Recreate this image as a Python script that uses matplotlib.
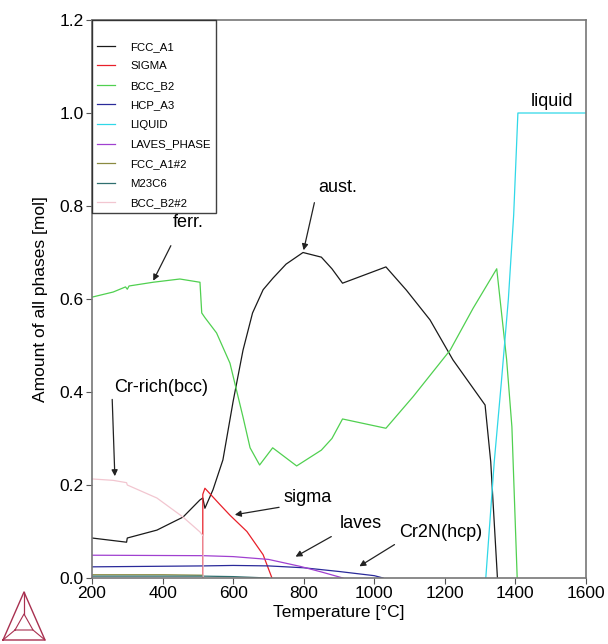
import matplotlib.pyplot as plt
import numpy as np

# phase amounts vs temperature
fcc_T = [200, 298, 300, 384, 458, 506, 514, 520, 543, 571, 600, 628, 655, 685, 713, 750, 798, 850, 880, 910, 1033, 1091, 1158, 1223, 1314, 1330, 1349]
fcc_v = [0.086, 0.077, 0.086, 0.103, 0.131, 0.168, 0.172, 0.150, 0.190, 0.254, 0.380, 0.490, 0.570, 0.620, 0.645, 0.675, 0.700, 0.690, 0.665, 0.634, 0.669, 0.619, 0.555, 0.469, 0.372, 0.250, 0.0]

sigma_T = [514, 514, 520, 560, 591, 639, 685, 710]
sigma_v = [0.0, 0.180, 0.193, 0.160, 0.135, 0.100, 0.050, 0.0]

bcc_T = [200, 260, 295, 300, 305, 373, 449, 506, 511, 520, 553, 591, 628, 648, 675, 712, 780, 850, 880, 910, 1033, 1110, 1215, 1280, 1347, 1375, 1390, 1405]
bcc_v = [0.604, 0.615, 0.626, 0.621, 0.628, 0.636, 0.643, 0.636, 0.570, 0.560, 0.527, 0.462, 0.346, 0.280, 0.243, 0.280, 0.241, 0.275, 0.300, 0.342, 0.322, 0.390, 0.490, 0.580, 0.665, 0.470, 0.325, 0.0]

hcp_T = [200, 515, 600, 700, 800, 900, 1000, 1025]
hcp_v = [0.024, 0.026, 0.027, 0.026, 0.022, 0.014, 0.005, 0.0]

liq_T = [1316, 1340, 1360, 1380, 1395, 1407, 1600]
liq_v = [0.0, 0.25, 0.42, 0.60, 0.78, 1.0, 1.0]

laves_T = [200, 515, 600, 700, 790, 850, 911]
laves_v = [0.049, 0.048, 0.046, 0.040, 0.025, 0.013, 0.0]

fcc2_T = [200, 400, 515, 516]
fcc2_v = [0.007, 0.007, 0.006, 0.0]

m23_T = [200, 515, 600, 700]
m23_v = [0.004, 0.004, 0.003, 0.0]

bcc2_T = [200, 260, 298, 300, 384, 458, 506, 515, 515]
bcc2_v = [0.213, 0.210, 0.205, 0.200, 0.172, 0.131, 0.099, 0.090, 0.0]

phases = [
    ('FCC_A1', fcc_T, fcc_v, '#1a1a1a'),
    ('SIGMA', sigma_T, sigma_v, '#e8202a'),
    ('BCC_B2', bcc_T, bcc_v, '#50d050'),
    ('HCP_A3', hcp_T, hcp_v, '#2a2a9a'),
    ('LIQUID', liq_T, liq_v, '#30d8e8'),
    ('LAVES_PHASE', laves_T, laves_v, '#a040d0'),
    ('FCC_A1#2', fcc2_T, fcc2_v, '#8a8a40'),
    ('M23C6', m23_T, m23_v, '#2f6f6f'),
    ('BCC_B2#2', bcc2_T, bcc2_v, '#f2c6d0'),
]

# labels: (text, text pos, arrow tail, arrow tip)
notes = [
    ('ferr.', (472, 0.765), (427, 0.72), (370, 0.634)),
    ('aust.', (897, 0.84), (832, 0.813), (798, 0.699)),
    ('Cr-rich(bcc)', (396, 0.41), (257, 0.39), (265, 0.213)),
    ('sigma', (810, 0.174), (738, 0.153), (597, 0.135)),
    ('laves', (962, 0.118), (885, 0.092), (770, 0.043)),
    ('Cr2N(hcp)', (1189, 0.097), (1064, 0.075), (951, 0.022)),
    ('liquid', (1503, 1.024), None, None),
]

plt.rcParams['font.family'] = ['Liberation Sans', 'DejaVu Sans']

fig = plt.figure(figsize=(6.08, 6.44), dpi=100)
ax = fig.add_axes([92/608, 66/644, 494/608, 558/644])

for name, T, v, c in phases:
    ax.plot(T, v, color=c, lw=0.9, label=name)

for txt, pos, tail, tip in notes:
    ax.text(pos[0], pos[1], txt, fontsize=13, ha='center', va='center')
    if tip is not None:
        ax.annotate('', xy=tip, xytext=tail,
                    arrowprops=dict(arrowstyle='-|>', color='#222222', lw=0.9, mutation_scale=9))

ax.set_xlim(200, 1600)
ax.set_ylim(0, 1.2)
ax.set_xticks([200, 400, 600, 800, 1000, 1200, 1400, 1600])
ax.set_yticks([0.0, 0.2, 0.4, 0.6, 0.8, 1.0, 1.2])
ax.set_yticklabels(['0.0', '0.2', '0.4', '0.6', '0.8', '1.0', '1.2'])
ax.tick_params(labelsize=12.5, length=4, color='#555555', pad=2)
for s in ax.spines.values():
    s.set_color('#777777')
    s.set_linewidth(1.2)
ax.set_xlabel('Temperature [°C]', fontsize=12.5, labelpad=3)
ax.set_ylabel('Amount of all phases [mol]', fontsize=12.5, labelpad=8)

leg = ax.legend(loc='upper left', borderaxespad=0, fontsize=8.2, frameon=True, fancybox=False,
                handlelength=1.58, handletextpad=1.32, labelspacing=0.84, borderpad=0.45,
                title=' ', title_fontsize=5)
leg.get_frame().set_edgecolor('#111111')
leg.get_frame().set_linewidth(1.0)

# thermo-calc logo, bottom left
lax = fig.add_axes([0, 0, 50/608, 56/644])
lax.set_xlim(0, 50)
lax.set_ylim(0, 56)
lax.axis('off')
outer = np.array([[3, 4], [45, 4], [24, 52], [3, 4]])
inner = np.array([[15, 14], [33, 14], [24, 30], [15, 14]])
lax.plot(outer[:, 0], outer[:, 1], color='#a83050', lw=1.0)
lax.plot(inner[:, 0], inner[:, 1], color='#a83050', lw=0.8)
for a, b in zip(outer[:3], inner[:3]):
    lax.plot([a[0], b[0]], [a[1], b[1]], color='#a83050', lw=0.8)
lax.plot([24, 24], [30, 52], color='#a83050', lw=0.8)

fig.savefig('out.png', dpi=100)
